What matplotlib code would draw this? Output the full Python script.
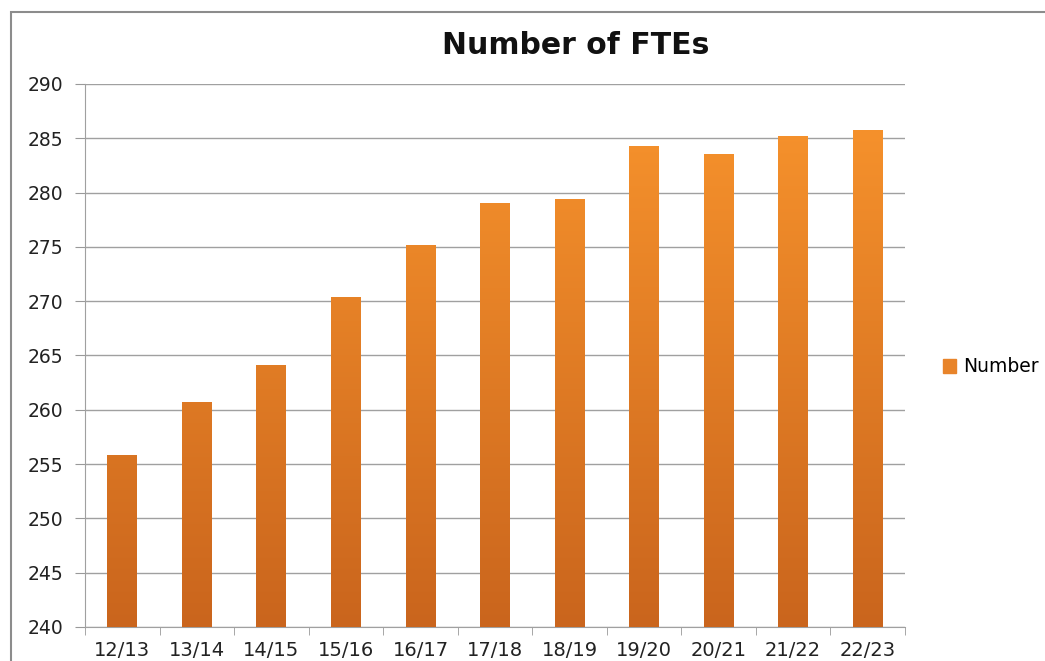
#!/usr/bin/env python
# coding: utf-8
"""Number of FTEs per year, Excel style bar chart with gradient bars"""
import numpy as np
import matplotlib
matplotlib.use("Agg")
from matplotlib import pyplot as plt
from matplotlib.colors import LinearSegmentedColormap
from matplotlib.patches import Rectangle

years = ["12/13", "13/14", "14/15", "15/16", "16/17", "17/18",
         "18/19", "19/20", "20/21", "21/22", "22/23"]
ftes = [255.8, 260.7, 264.1, 270.4, 275.2, 279.0,
        279.4, 284.3, 283.6, 285.2, 285.8]

plt.rcParams['font.family'] = ['DejaVu Sans']

figure = plt.figure(figsize=(10.45, 6.61), dpi=100)
figure.patches.append(Rectangle((11 / 1045, -0.01), 1.0, 1 - 12 / 661 + 0.01,
                                transform=figure.transFigure,
                                fill=False, edgecolor='#8c8c8c', linewidth=1.5))

axes = figure.add_axes([85 / 1045, 34 / 661, 820 / 1045, 543 / 661])

ymin, ymax = 240, 290
x = np.arange(len(years))
bars = axes.bar(x, [v - ymin for v in ftes], bottom=ymin, width=0.4,
                color='#e8842a', label='Number', zorder=2)

cmap = LinearSegmentedColormap.from_list('fte', ['#ca651d', '#f9952d'])
grad = np.linspace(0, 1, 256).reshape(-1, 1)
for bar in bars:
    bx, by = bar.get_x(), bar.get_y()
    bw, bh = bar.get_width(), bar.get_height()
    img = axes.imshow(grad, cmap=cmap, origin='lower', aspect='auto',
                      extent=[bx, bx + bw, by, ymax], zorder=3,
                      interpolation='bilinear')
    img.set_clip_path(bar)
    bar.set_alpha(0)

axes.set_xlim(-0.5, len(years) - 0.5)
axes.set_ylim(ymin, ymax)
axes.set_yticks(np.arange(240, 291, 5))
axes.set_xticks(x)
axes.set_xticklabels(years)
axes.set_xticks(np.arange(-0.5, len(years), 1), minor=True)
axes.tick_params(axis='x', which='major', length=0, pad=10, labelsize=14,
                 colors='#222222')
axes.tick_params(axis='x', which='minor', length=6, color='#999999')
axes.tick_params(axis='y', length=7, color='#999999', pad=8.5, labelsize=13.5,
                 colors='#222222')
axes.yaxis.grid(True, color='#a0a0a0', linewidth=1, zorder=0)
axes.set_axisbelow(True)
for side in ('top', 'right'):
    axes.spines[side].set_visible(False)
for side in ('left', 'bottom'):
    axes.spines[side].set_color('#a0a0a0')

figure.text(576 / 1045, 1 - 45 / 661, "Number of FTEs", ha='center',
            va='center', fontsize=21.5, fontweight='bold', color='#111111')

handle = Rectangle((0, 0), 1, 1, color='#e8842a')
figure.legend([handle], ['Number'], loc='center left',
              bbox_to_anchor=(926 / 1045, 1 - 367 / 661), frameon=False,
              fontsize=13.5, handlelength=0.7, handleheight=0.7,
              handletextpad=0.4)

figure.savefig("out.png", dpi=100)
